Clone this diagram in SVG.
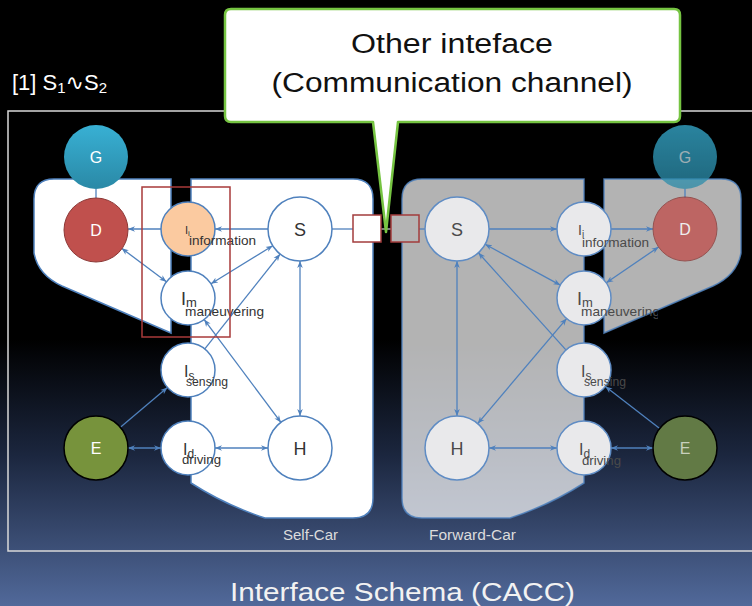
<svg xmlns="http://www.w3.org/2000/svg" width="752" height="606" viewBox="0 0 752 606">
<defs>
<linearGradient id="bg" x1="0" y1="0" x2="0" y2="606" gradientUnits="userSpaceOnUse">
<stop offset="0" stop-color="#000000"/>
<stop offset="0.56" stop-color="#000000"/>
<stop offset="0.75" stop-color="#1b263e"/>
<stop offset="1" stop-color="#51699a"/>
</linearGradient>
<linearGradient id="gG" x1="0" y1="0" x2="0" y2="1">
<stop offset="0" stop-color="#38b0d4"/>
<stop offset="1" stop-color="#2a89a6"/>
</linearGradient>
<marker id="ah" viewBox="0 0 10 10" refX="10" refY="5" markerWidth="7" markerHeight="7" orient="auto-start-reverse" markerUnits="userSpaceOnUse">
<path d="M0,1 L10,5 L0,9 L3,5 Z" fill="#4f81bd"/>
</marker>
<clipPath id="clipMan"><rect x="560" y="290" width="98" height="40"/></clipPath>
</defs>
<style>
.reg{fill:#ffffff;stroke:#4f81bd;stroke-width:1.5}
.regF{fill:#ffffff;fill-opacity:0.7;stroke:#4f81bd;stroke-opacity:0.85;stroke-width:1.5}
.c{fill:none;stroke:#4f81bd;stroke-width:1.3}
.a{marker-end:url(#ah)}
.b{marker-start:url(#ah);marker-end:url(#ah)}
.nw{fill:#ffffff;stroke:#4f81bd;stroke-width:1.5}
.nf{fill:#e9e9eb;stroke:#5f8cc4;stroke-width:1.5}
.lt{font-family:"Liberation Sans","DejaVu Sans",sans-serif;fill:#333333}
.lf{font-family:"Liberation Sans","DejaVu Sans",sans-serif;fill:#4a4a4a}
.wt{font-family:"Liberation Sans","DejaVu Sans",sans-serif;fill:#ffffff;font-size:16px;text-anchor:middle}
.big{font-family:"Liberation Sans","DejaVu Sans",sans-serif;fill:#111111;font-size:27px;text-anchor:middle}
</style>
<rect x="0" y="0" width="752" height="606" fill="url(#bg)"/>
<rect x="8" y="111" width="760" height="440" fill="none" stroke="#d9d9d9" stroke-width="1.5"/>
<text x="12" y="90" font-family="Liberation Sans, DejaVu Sans, sans-serif" font-size="22" fill="#ffffff">[1] S<tspan font-size="15" dy="3">1</tspan><tspan dy="-3">∿S</tspan><tspan font-size="15" dy="3">2</tspan></text>

<g id="self-car-region">
<path class="reg" d="M171,179 V333 L62,286 Q38,275 34,253 V199 Q34,179 54,179 Z"/>
<path class="reg" d="M191,179 H353 Q373,179 373,199 V498 Q373,518 353,518 H265 Q225,505 191,483 Z"/>
</g>
<g id="forward-car-region">
<path class="regF" d="M604,179 V333 L713,286 Q737,275 741,253 V199 Q741,179 721,179 Z"/>
<path class="regF" d="M584,179 V483 Q550,505 510,518 H422 Q402,518 402,498 V199 Q402,179 422,179 Z"/>
</g>

<g id="connectors">
<line class="c" x1="96" y1="189" x2="96" y2="198"/>
<line class="c a" x1="161" y1="229" x2="128" y2="229"/>
<line class="c a" x1="268" y1="229" x2="215" y2="229"/>
<line class="c b" x1="121.6" y1="248.2" x2="166.4" y2="281.8"/>
<line class="c b" x1="272.7" y1="245.8" x2="211" y2="283.8"/>
<line class="c a" x1="204.8" y1="348.9" x2="280.1" y2="254.1"/>
<line class="c b" x1="204.2" y1="319.6" x2="280.9" y2="422.4"/>
<line class="c b" x1="300" y1="261" x2="300" y2="416"/>
<line class="c a" x1="120.4" y1="427.3" x2="167.4" y2="387.5"/>
<line class="c b" x1="128" y1="448" x2="161" y2="448"/>
<line class="c b" x1="215" y1="448" x2="268" y2="448"/>
<line class="c" x1="332" y1="229" x2="353" y2="229"/>
<line x1="381" y1="229" x2="391" y2="229" stroke="#a8a8a8" stroke-width="1.5"/>
<line class="c" x1="419" y1="229" x2="425" y2="229"/>
<line class="c" x1="685" y1="189" x2="685" y2="198"/>
<line class="c a" x1="489" y1="229" x2="557" y2="229"/>
<line class="c a" x1="611" y1="229" x2="653" y2="229"/>
<line class="c b" x1="658.6" y1="247" x2="606.3" y2="282.8"/>
<line class="c b" x1="485.1" y1="244.3" x2="560.3" y2="285.1"/>
<line class="c a" x1="565.9" y1="349.9" x2="478.4" y2="252.8"/>
<line class="c b" x1="477.7" y1="423.6" x2="566.6" y2="318.6"/>
<line class="c b" x1="457" y1="261" x2="457" y2="416"/>
<line class="c a" x1="659.7" y1="428.4" x2="605.4" y2="386.5"/>
<line class="c b" x1="653" y1="448" x2="611" y2="448"/>
<line class="c b" x1="489" y1="448" x2="557" y2="448"/>
</g>

<g id="node-G">
<circle cx="96" cy="157" r="32" fill="url(#gG)"/>
<text class="wt" x="96" y="163" font-size="15">G</text>
</g>
<g id="node-D">
<circle cx="96" cy="230" r="32" fill="#c0504d" stroke="#8c3836" stroke-width="1"/>
<text class="wt" x="96" y="236">D</text>
</g>
<g id="node-E">
<circle cx="96" cy="448" r="32" fill="#77933c" stroke="#000000" stroke-width="1.5"/>
<text class="wt" x="96" y="454">E</text>
</g>
<g id="node-Ii">
<circle cx="188" cy="229" r="27" fill="#fbcaa0" stroke="#4f81bd" stroke-width="1.5"/>
<text class="lt" x="185" y="234" font-size="11">I<tspan font-size="8" dy="2">i</tspan></text>
<text class="lt" x="189" y="245" font-size="12" textLength="67" lengthAdjust="spacingAndGlyphs">information</text>
</g>
<g id="node-Im">
<circle class="nw" cx="188" cy="298" r="27"/>
<text class="lt" x="181" y="305" font-size="18">I<tspan font-size="13" dy="2">m</tspan></text>
<text class="lt" x="185" y="316" font-size="13" textLength="79" lengthAdjust="spacingAndGlyphs">maneuvering</text>
</g>
<g id="node-Is">
<circle class="nw" cx="188" cy="370" r="27"/>
<text class="lt" x="184" y="377" font-size="16">I<tspan font-size="12" dy="3">s</tspan></text>
<text class="lt" x="186" y="386" font-size="12" textLength="42" lengthAdjust="spacingAndGlyphs">sensing</text>
</g>
<g id="node-Id">
<circle class="nw" cx="188" cy="448" r="27"/>
<text class="lt" x="183" y="455" font-size="16">I<tspan font-size="12" dy="3">d</tspan></text>
<text class="lt" x="182" y="464" font-size="12" textLength="39" lengthAdjust="spacingAndGlyphs">driving</text>
</g>
<g id="node-S">
<circle class="nw" cx="300" cy="229" r="32"/>
<text class="lt" x="300" y="236" font-size="18" text-anchor="middle">S</text>
</g>
<g id="node-H">
<circle class="nw" cx="300" cy="448" r="32"/>
<text class="lt" x="300" y="455" font-size="18" text-anchor="middle">H</text>
</g>

<g id="node-G2" opacity="0.75">
<circle cx="685" cy="157" r="32" fill="url(#gG)"/>
<text class="wt" x="685" y="163" font-size="15" fill-opacity="0.8">G</text>
</g>
<g id="node-D2" opacity="0.78">
<circle cx="685" cy="229" r="32" fill="#c0504d" stroke="#8c3836" stroke-width="1"/>
<text class="wt" x="685" y="235">D</text>
</g>
<g id="node-E2">
<circle cx="685" cy="448" r="32" fill="#627a45" stroke="#000000" stroke-width="1.5"/>
<text class="wt" x="685" y="454" style="fill:#c8d0bc">E</text>
</g>
<g id="node-S2">
<circle class="nf" cx="457" cy="229" r="32"/>
<text class="lf" x="457" y="236" font-size="18" text-anchor="middle">S</text>
</g>
<g id="node-H2">
<circle class="nf" cx="457" cy="448" r="32"/>
<text class="lf" x="457" y="455" font-size="18" text-anchor="middle">H</text>
</g>
<g id="node-Ii2">
<circle class="nf" cx="584" cy="229" r="27"/>
<text class="lf" x="578" y="235" font-size="14">I<tspan font-size="10" dy="3">i</tspan></text>
<text class="lf" x="582" y="247" font-size="12" textLength="67" lengthAdjust="spacingAndGlyphs">information</text>
</g>
<g id="node-Im2">
<circle class="nf" cx="584" cy="298" r="27"/>
<text class="lf" x="577" y="305" font-size="18">I<tspan font-size="13" dy="2">m</tspan></text>
<text class="lf" x="581" y="316" font-size="13" textLength="79" lengthAdjust="spacingAndGlyphs" clip-path="url(#clipMan)">maneuvering</text>
</g>
<g id="node-Is2">
<circle class="nf" cx="584" cy="370" r="27"/>
<text class="lf" x="581" y="377" font-size="16">I<tspan font-size="12" dy="3">s</tspan></text>
<text class="lf" x="584" y="386" font-size="12" textLength="42" lengthAdjust="spacingAndGlyphs">sensing</text>
</g>
<g id="node-Id2">
<circle class="nf" cx="584" cy="448" r="27"/>
<text class="lf" x="579" y="455" font-size="16">I<tspan font-size="12" dy="3">d</tspan></text>
<text class="lf" x="582" y="465" font-size="12" textLength="39" lengthAdjust="spacingAndGlyphs">driving</text>
</g>

<g id="selection">
<rect x="142" y="187" width="88" height="150" fill="none" stroke="#a83a3a" stroke-width="1.5"/>
</g>
<g id="interface-self">
<rect x="353" y="215" width="28" height="27" fill="#ffffff" stroke="#a33c3c" stroke-width="1.5"/>
</g>
<g id="interface-forward">
<rect x="391" y="215" width="28" height="27" fill="#b4b4b4" stroke="#a33c3c" stroke-width="1.5"/>
</g>

<g id="callout">
<path d="M231,9 H674 Q680,9 680,15 V116 Q680,122 674,122 H398 L386,232 L373,122 H231 Q225,122 225,116 V15 Q225,9 231,9 Z" fill="#ffffff" stroke="#76c442" stroke-width="2.5" stroke-linejoin="round"/>
<text class="big" x="452" y="53" textLength="202" lengthAdjust="spacingAndGlyphs">Other inteface</text>
<text class="big" x="452" y="92" textLength="361" lengthAdjust="spacingAndGlyphs">(Communication channel)</text>
</g>

<text x="283" y="540" font-family="Liberation Sans, DejaVu Sans, sans-serif" font-size="14" fill="#dcdcdc" textLength="55" lengthAdjust="spacingAndGlyphs">Self-Car</text>
<text x="429" y="540" font-family="Liberation Sans, DejaVu Sans, sans-serif" font-size="14" fill="#dcdcdc" textLength="87" lengthAdjust="spacingAndGlyphs">Forward-Car</text>
<text x="230" y="601" font-family="Liberation Sans, DejaVu Sans, sans-serif" font-size="25" fill="#f2f2f2" textLength="345" lengthAdjust="spacingAndGlyphs">Interface Schema (CACC)</text>
</svg>
